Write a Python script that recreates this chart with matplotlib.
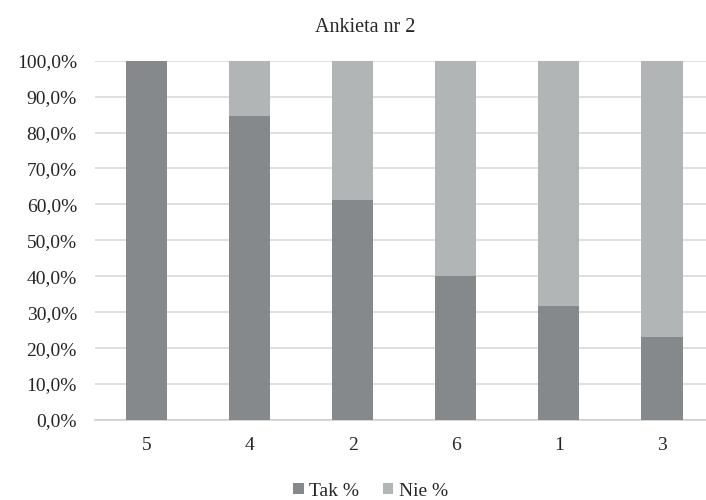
import numpy as np
import matplotlib.pyplot as plt
from matplotlib.ticker import FuncFormatter

plt.rcParams['font.family'] = ['Liberation Serif', 'DejaVu Serif']

# Survey no. 2: share of "yes" / "no" answers per question
questions = ['5', '4', '2', '6', '1', '3']
tak_pct = [100.0, 84.6, 61.1, 40.0, 31.8, 23.0]
nie_pct = [100.0 - v for v in tak_pct]

dark = '#86898b'
light = '#b2b5b6'

fig = plt.figure(figsize=(7.06, 5.0), dpi=100)
ax = fig.add_axes([0.1346, 0.16, 0.876, 0.7186])

x = np.arange(len(questions))
ax.bar(x, tak_pct, width=0.4, color=dark, label='Tak %', zorder=3)
ax.bar(x, nie_pct, width=0.4, bottom=tak_pct, color=light, label='Nie %', zorder=3)

ax.set_xlim(-0.5, len(questions) - 0.5)
ax.set_ylim(0, 100)
ax.set_yticks(np.arange(0, 101, 10))
ax.yaxis.set_major_formatter(FuncFormatter(lambda v, _: f'{v:.1f}%'.replace('.', ',')))
ax.set_xticks(x)
ax.set_xticklabels(questions)
ax.tick_params(axis='both', length=0, labelsize=14, colors='#262626')
ax.tick_params(axis='x', pad=12)
ax.tick_params(axis='y', pad=13)

ax.grid(axis='y', color='#d9d9d9', linewidth=1.2, zorder=0)
for side in ['left', 'right', 'top']:
    ax.spines[side].set_visible(False)
ax.spines['bottom'].set_color('#cfcfcf')
ax.spines['bottom'].set_linewidth(1.2)

fig.text(0.517, 0.944, 'Ankieta nr 2', ha='center', va='center', fontsize=14.5, color='#262626')

fig.legend(loc='center', bbox_to_anchor=(0.525, 0.018), ncol=2, frameon=False,
           fontsize=14, handlelength=0.55, handleheight=0.55, handletextpad=0.3,
           columnspacing=1.2, labelcolor='#262626')

fig.savefig('out.png', dpi=100)
